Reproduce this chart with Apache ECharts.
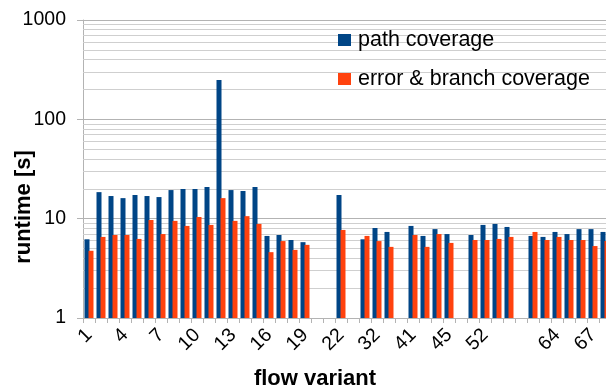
<!DOCTYPE html>
<html>
<head>
<meta charset="utf-8">
<script src="https://cdn.jsdelivr.net/npm/echarts@6/dist/echarts.min.js"></script>
<style>
html,body{margin:0;padding:0;background:#fff;}
#c{width:606px;height:389px;}
</style>
</head>
<body>
<div id="c"></div>
<script>
const categories = ['1','2','3','4','5','6','7','8','9','10','11','12','13','14','15','16','17','18','19','','','22','','31','32','33','','41','42','44','45','','51','52','53','54','','62','63','64','65','66','67','68'];
const pathCoverage = [6.2,18.5,16.9,16.1,17.3,16.9,16.5,19.4,19.9,19.9,20.8,249,19.4,19.0,20.8,6.7,6.85,6.1,5.8,null,null,17.3,null,6.2,8.05,7.35,null,8.45,6.7,7.85,7.0,null,6.85,8.65,8.85,8.25,null,6.7,6.55,7.35,7.0,7.85,7.85,7.35];
const errorBranchCoverage = [4.75,6.55,6.85,6.85,6.25,9.7,7.0,9.5,8.45,10.4,8.65,16.1,9.5,10.6,8.85,4.6,5.95,4.85,5.45,null,null,7.7,null,6.7,5.95,5.2,null,6.85,5.2,7.0,5.7,null,6.1,6.1,6.25,6.55,null,7.35,6.1,6.55,6.1,6.1,5.3,5.95];
const seriesNames = ['path coverage','error & branch coverage'];
const minorGridValues = [2,3,4,5,6,7,8,9,20,30,40,50,60,70,80,90,200,300,400,500,600,700,800,900];

const FONT = 'Liberation Sans';
const chart = echarts.init(document.getElementById('c'), null, {renderer:'canvas'});
chart.setOption({
  animation:false,
  backgroundColor:'#ffffff',
  textStyle:{fontFamily:FONT},
  grid:{left:83, top:20, bottom:71, right:-5, containLabel:false, outerBoundsMode:'none'},
  legend:{
    data:seriesNames,
    orient:'vertical',
    left:333, top:24,
    itemWidth:13, itemHeight:12, itemGap:17,
    icon:'rect',
    textStyle:{fontFamily:FONT, fontSize:21.5, color:'#000', padding:[0,0,0,2]}
  },
  xAxis:{
    type:'category',
    data:categories,
    boundaryGap:true,
    name:'flow variant',
    nameLocation:'middle',
    nameGap:50,
    nameMoveOverlap:false,
    nameTextStyle:{fontFamily:FONT, fontSize:22, fontWeight:'bold', color:'#000', padding:[0,64,0,0]},
    axisLine:{show:true, lineStyle:{color:'#b3b3b3'}},
    axisTick:{show:true, interval:0, length:5, lineStyle:{color:'#b3b3b3'}},
    axisLabel:{interval:2, rotate:45, fontFamily:FONT, fontSize:19.5, color:'#000', margin:14},
    splitLine:{show:false}
  },
  yAxis:{
    type:'log',
    logBase:10,
    min:1, max:1000,
    name:'runtime [s]',
    nameLocation:'middle',
    nameGap:48,
    nameRotate:90,
    nameMoveOverlap:false,
    nameTextStyle:{fontFamily:FONT, fontSize:22, fontWeight:'bold', color:'#000', padding:[0,76,0,0]},
    axisLine:{show:true, lineStyle:{color:'#b3b3b3'}},
    axisTick:{show:true, length:6, lineStyle:{color:'#b3b3b3'}},
    axisLabel:{fontFamily:FONT, fontSize:19.5, color:'#000', margin:17, formatter:v=>String(v)},
    splitLine:{show:true, lineStyle:{color:'#b3b3b3', width:1}},
    minorTick:{show:false},
    minorSplitLine:{show:false}
  },
  series:[
    {
      name:'grid', type:'line', data:[], z:1, silent:true,
      markLine:{
        silent:true, symbol:['none','none'], z:1,
        label:{show:false},
        lineStyle:{color:'#cfcfcf', type:'solid', width:1},
        emphasis:{disabled:true},
        data:minorGridValues.map(v=>({yAxis:v}))
      }
    },
    {
      name:seriesNames[0], type:'bar', data:pathCoverage, z:10,
      barWidth:5, barGap:'-20%',
      itemStyle:{color:'#004586'}
    },
    {
      name:seriesNames[1], type:'bar', data:errorBranchCoverage, z:10,
      barWidth:5, barGap:'-20%',
      itemStyle:{color:'#ff420e'}
    }
  ]
});
</script>
</body>
</html>
